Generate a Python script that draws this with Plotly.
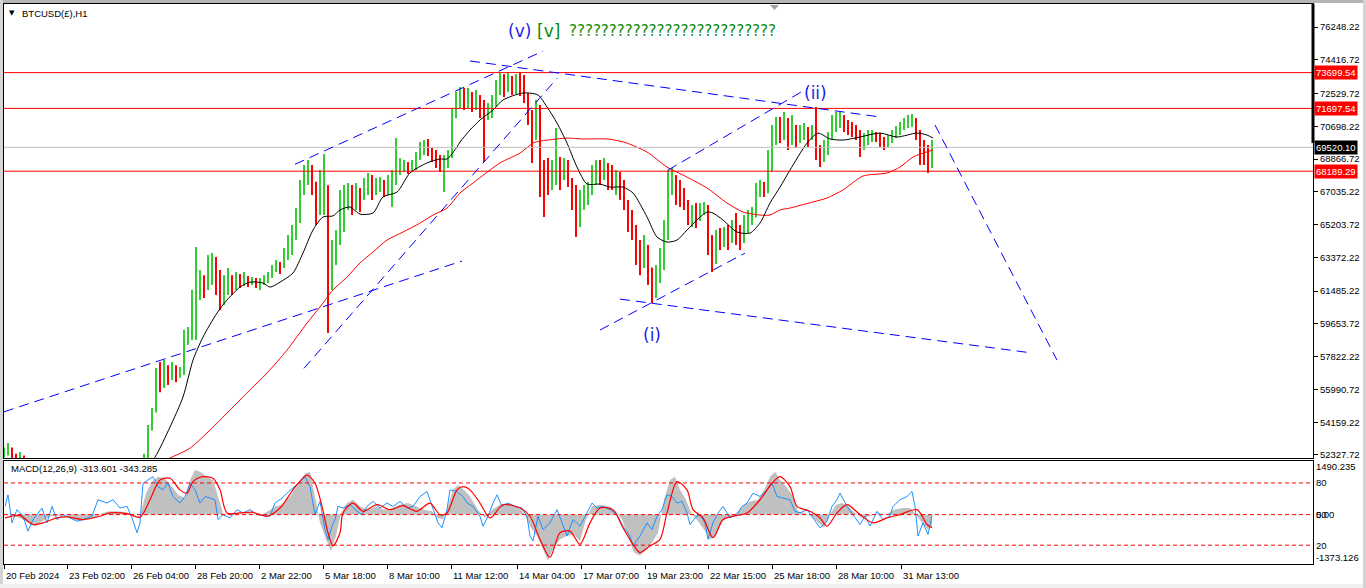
import plotly.graph_objects as go

# ---------------- data ----------------
first_open = 52450
bar_step = 4  # hourly bars per drawn candle

c_close = [
    52600, 52700, 52300, 52150, 52250, 52050, 51800, 51500, 51300, 51100,
    51350, 51600, 51400, 51150, 50950, 51200, 51450, 51650, 51400, 51250,
    51050, 50900, 51150, 51400, 51600, 51750, 51500, 51350, 51600, 51800,
    51650, 51500, 51750, 51850, 51950,
    52200, 53720, 54730, 56800, 56240, 56970, 56640, 57190, 56800, 56970,
    58750, 59030, 60710, 61550, 61830, 61550, 62660, 62940, 62100, 61270,
    61830, 62100, 61710, 62220, 61990, 62100, 61940, 62050, 61880, 61940,
    62160, 62270, 62660, 62940, 62780, 63340, 63780, 64620, 65460, 66860,
    67700, 68250, 67420, 66020, 66860, 67140, 63220, 63780, 64340, 66300,
    66580, 67020, 66300, 66860, 66580, 67140, 67530, 67140, 67250, 67420,
    67140, 67530, 67810, 68250, 68370, 68530, 68370, 68480, 68930, 69370,
    69650, 69370, 69090, 68810, 68530, 68810, 69090, 71330, 72170, 72450,
    72170, 72280, 71890, 72170, 71610, 71160, 71610, 71890, 72730, 73290,
    73010, 73290, 72840, 73170, 73010, 72450, 71610, 70210, 71610, 68250,
    68250, 67700, 67970, 68530, 67970, 68530, 67700, 66860, 66300, 66580,
    66860, 67140, 67970, 68250, 68090, 68370, 67970, 67700, 67810, 67420,
    66580, 65740, 64900, 64060, 63220, 63500, 62660, 61270, 62380, 62780,
    64620, 67420, 67700, 67140, 66860, 66580, 65740, 66020, 65460, 66020,
    66130, 64340, 63110, 64340, 64230, 64620, 64340, 64900, 64620, 64340,
    64790, 65460, 65740, 66860, 67140, 67020, 68250, 69930, 70600, 70490,
    70770, 70210, 70490, 70040, 70320, 70490, 70040, 70490, 69370, 68810,
    69370, 69930, 70770, 71050, 71160, 70770, 70600, 70490, 70210, 69370,
    69930, 70040, 70210, 70040, 69820, 69650, 69930, 70210, 70380, 70600,
    70770, 70940, 71160, 70210, 69370, 69090, 68700, 69520,
]
c_high = [
    52750, 53000, 52750, 52400, 52500, 52300, 52080, 51900, 51600, 51400,
    51500, 51750, 51700, 51500, 51250, 51350, 51600, 51800, 51750, 51500,
    51350, 51150, 51300, 51550, 51750, 51950, 51850, 51600, 51750, 51950,
    51900, 51750, 51900, 52000, 52100,
    52400, 54000, 54950, 57190, 57520, 57630, 57350, 57520, 57350, 57240,
    59310, 59480, 61550, 63950, 62660, 62380, 63500, 63620, 63390, 62660,
    62380, 62780, 62380, 62550, 62440, 62550, 62330, 62270, 62220, 62220,
    62380, 62550, 62940, 63220, 63110, 63890, 64620, 65180, 66130, 67700,
    68530, 68810, 68530, 67600, 68250, 69150, 67400, 64340, 64900, 67140,
    67420, 67530, 67420, 67530, 67250, 67810, 68090, 67970, 67810, 67860,
    67700, 67970, 68250, 70040, 68930, 68810, 68700, 68810, 69260, 69820,
    69930, 69990, 69480, 69370, 69090, 69090, 69370, 71720, 72610, 72890,
    72840, 72840, 72610, 72730, 72450, 72170, 72000, 72450, 73290, 73680,
    73620, 73730, 73510, 73620, 73730, 73570, 72560, 71610, 72170, 71890,
    68810, 68930, 68810, 70600, 68980, 68930, 68810, 67810, 67420, 67140,
    67420, 67580, 68530, 68810, 68810, 68930, 68650, 68530, 68250, 68140,
    67700, 66580, 66020, 65180, 64340, 64620, 64060, 62800, 62940, 63890,
    65460, 68250, 68370, 67970, 67700, 67250, 66580, 66300, 66410, 66410,
    66470, 66300, 64620, 64900, 65010, 65070, 65180, 65460, 65850, 65180,
    65740, 66020, 66190, 67530, 67700, 67580, 69370, 70770, 71220, 71220,
    71500, 71160, 71330, 70770, 70770, 70880, 70660, 70770, 71780, 69650,
    69930, 70380, 71330, 71500, 71500, 71330, 71050, 70940, 70770, 70490,
    70320, 70490, 70490, 70380, 70320, 70100, 70210, 70490, 70710, 70940,
    71160, 71330, 71380, 71160, 70490, 69930, 69650, 69930,
]
c_low = [
    52200, 52300, 52000, 51900, 51950, 51800, 51600, 51300, 51100, 50900,
    51000, 51250, 51200, 51000, 50800, 50850, 51100, 51350, 51250, 51100,
    50900, 50700, 50800, 51050, 51300, 51500, 51350, 51200, 51250, 51500,
    51450, 51350, 51400, 51650, 51750,
    51900, 52150, 53700, 54700, 55840, 56070, 56240, 56520, 56400, 56640,
    56800, 58470, 58750, 58750, 60990, 61100, 61550, 61830, 61270, 60430,
    60710, 61270, 61270, 61550, 61660, 61770, 61710, 61830, 61660, 61550,
    61830, 61940, 62220, 62550, 62440, 62780, 63220, 63500, 64340, 65300,
    66860, 67420, 66860, 65180, 65740, 65740, 59140, 61550, 62940, 64060,
    64790, 66020, 65740, 66020, 65910, 66580, 66860, 66580, 66860, 67020,
    66750, 66860, 66190, 67420, 67970, 68140, 68030, 68140, 68250, 68810,
    69090, 69040, 68700, 68370, 68140, 67020, 68370, 68930, 71160, 71720,
    71610, 71720, 71500, 71610, 71160, 68700, 71050, 71160, 71800, 72450,
    72340, 72610, 72450, 72500, 72390, 72000, 70770, 68650, 69930, 66750,
    65630, 66860, 67140, 67420, 67140, 67700, 67300, 66020, 64510, 65070,
    66020, 66300, 66860, 67420, 67420, 67700, 67140, 67140, 66860, 66580,
    66020, 64790, 64340, 62940, 62380, 62780, 61830, 60820, 61100, 61940,
    62660, 64340, 66860, 66300, 66190, 66020, 65180, 65070, 65010, 65400,
    65740, 63500, 62550, 63000, 63780, 63950, 63780, 64170, 64060, 63780,
    64170, 64700, 65180, 65600, 66750, 66750, 66950, 68140, 69650, 69760,
    69930, 69370, 69650, 69480, 69760, 69930, 69540, 69930, 68810, 68420,
    68700, 69090, 69930, 70380, 70600, 70380, 70210, 70100, 69930, 68980,
    69370, 69650, 69820, 69820, 69540, 69370, 69540, 69760, 70040, 70210,
    70490, 70600, 70660, 69930, 68530, 68530, 68090, 68370,
]

ma_fast_bars = [140, 151, 166, 179, 189, 199, 213, 223, 236, 246, 259, 266, 276, 289, 299, 309, 319, 329, 336, 346,
                356, 369, 379, 393, 406, 423, 436, 443, 453, 456, 466, 476, 489, 499, 519, 534, 543, 553, 563, 573,
                583, 596, 606, 619, 629, 643, 653, 663, 673, 683, 693, 703, 709, 719, 733, 746, 756, 766, 776, 786,
                803, 814, 826, 839, 856, 876, 893, 913, 923, 929]
ma_fast_vals = [51500, 52210, 53890, 55570, 57630, 58920, 60260, 60990, 61710, 61990, 61940, 61710, 61990, 62500, 63620, 64900, 65630, 65690, 66020, 66190,
                65790, 65850, 66750, 67020, 68090, 68650, 68870, 68870, 69540, 69820, 70490, 71050, 71610, 72170, 72560, 72450, 71780, 70880, 69760, 68420,
                67470, 67470, 67300, 67300, 66970, 65630, 64510, 64230, 64340, 64900, 65460, 65910, 65850, 65460, 64790, 64730, 65290, 66410, 67300, 68250,
                69760, 70320, 69990, 69930, 70100, 70320, 70100, 70320, 70210, 70040]

ma_slow_bars = [140, 168, 186, 203, 223, 243, 263, 283, 303, 316, 329, 343, 356, 369, 383, 399, 416, 429, 443, 456,
                469, 496, 516, 529, 536, 553, 563, 579, 603, 616, 623, 643, 663, 683, 703, 723, 739, 756, 766, 776,
                786, 809, 823, 839, 859, 883, 896, 909, 919, 929]
ma_slow_vals = [51450, 52210, 52710, 53560, 54670, 55800, 56910, 58190, 59700, 60600, 61550, 62270, 63060, 63670, 64340, 64790, 65290, 65740, 66130, 66970,
                67530, 68650, 69200, 69760, 69870, 69990, 70040, 69990, 69990, 69870, 69760, 69260, 68420, 67860, 67250, 66410, 65910, 65740, 65740, 66020,
                66130, 66470, 66690, 67140, 67920, 68090, 68420, 68980, 69200, 69370]

hist_bars = [1, 8, 16, 24, 31, 38, 46, 53, 61, 68, 76, 84, 91, 98, 106, 114, 122, 130, 136, 142,
             148, 154, 161, 168, 174, 181, 186, 191, 196, 203, 209, 214, 219, 226, 236, 246, 256, 264, 271, 278,
             286, 294, 301, 306, 311, 316, 322, 327, 332, 337, 343, 349, 356, 364, 372, 380, 388, 396, 404, 412,
             420, 428, 434, 439, 444, 449, 454, 460, 466, 474, 481, 488, 496, 504, 512, 519, 526, 533, 539, 544,
             549, 556, 563, 570, 576, 582, 588, 596, 604, 612, 618, 624, 630, 636, 642, 648, 654, 660, 666, 671,
             676, 682, 688, 694, 700, 706, 712, 718, 724, 731, 738, 746, 754, 761, 766, 771, 776, 782, 788, 794,
             801, 808, 814, 820, 826, 832, 838, 844, 851, 858, 866, 874, 882, 890, 898, 906, 912, 918, 924, 928]
hist_vals = [0, -28, -92, -229, -321, -183, -46, -46, 0, -92, -183, -138, -92, 46, 92, 92, 64, 0, -28, 596,
             917, 1055, 1009, 779, 550, 459, 963, 1238, 1192, 1055, 963, 504, 46, -28, 0, 46, -28, 92, 229, 275,
             504, 825, 1146, 1192, 504, -229, -688, -1009, -596, 46, 321, 413, 229, 138, 229, 138, 183, 275, 321, 229,
             138, 92, -92, -138, 229, 688, 825, 688, 504, 138, -92, 138, 275, 321, 229, 92, -321, -596, -963, -1284,
             -963, -688, -596, -550, -734, -138, 229, 275, 229, 92, -138, -596, -1055, -1146, -963, -779, -504, 413, 963, 1055,
             688, 413, 0, -183, -413, -688, -596, -183, -92, 0, 229, 367, 413, 734, 1055, 1192, 963, 779, 550, 92,
             46, -46, -229, -367, 0, 275, 321, 229, 46, -92, -46, 46, 0, 138, 183, 183, 0, -229, -413, -321]

sig_bars = [1, 16, 29, 39, 53, 63, 79, 96, 106, 123, 136, 146, 156, 166, 176, 183, 189, 199, 209, 216,
            223, 236, 249, 263, 276, 289, 303, 311, 318, 324, 329, 336, 339, 349, 359, 373, 386, 399, 413, 426,
            436, 443, 453, 459, 466, 476, 486, 499, 516, 526, 536, 546, 556, 566, 576, 586, 596, 609, 619, 629,
            636, 646, 656, 663, 673, 683, 689, 699, 709, 719, 729, 743, 756, 768, 776, 786, 793, 806, 816, 823,
            833, 843, 856, 869, 883, 896, 913, 923, 928]
sig_vals = [-92, -28, -275, -229, -92, -64, -138, -46, 46, 28, -73, 413, 963, 1009, 688, 596, 917, 1055, 1009, 688,
            46, 46, 64, -46, 183, 688, 1100, 871, 229, -504, -871, -504, 46, 321, 92, 275, 138, 248, 92, 321,
            0, 46, 688, 779, 688, 321, -92, 275, 183, -46, -688, -1192, -504, -459, -825, -229, 183, 138, -367, -825,
            -1055, -871, -688, 46, 917, 688, 138, -92, -642, -138, -46, 46, 413, 871, 1055, 779, 229, 92, -92, -321,
            46, 275, 0, -229, -92, 0, 138, -275, -367]

fast_bars = [1, 4, 8, 13, 19, 24, 29, 38, 43, 48, 53, 59, 66, 73, 79, 88, 94, 103, 109, 116,
             123, 128, 133, 136, 139, 144, 149, 154, 159, 164, 169, 176, 181, 186, 191, 196, 201, 206, 211, 214,
             219, 226, 233, 239, 246, 253, 259, 266, 271, 278, 283, 289, 296, 301, 306, 311, 316, 321, 324, 328,
             331, 334, 339, 346, 353, 358, 363, 369, 376, 383, 389, 396, 403, 409, 416, 423, 429, 434, 438, 443,
             446, 453, 459, 463, 469, 476, 479, 484, 489, 493, 498, 504, 511, 518, 523, 526, 529, 534, 539, 546,
             553, 558, 563, 569, 576, 583, 588, 593, 599, 606, 613, 619, 626, 629, 636, 643, 648, 653, 658, 663,
             668, 673, 678, 683, 686, 691, 696, 701, 704, 709, 714, 719, 726, 733, 738, 743, 749, 756, 763, 768,
             773, 779, 786, 791, 796, 803, 809, 816, 823, 828, 833, 836, 843, 849, 856, 861, 866, 873, 879, 886,
             889, 896, 903, 908, 911, 914, 919, 924, 928]
fast_vals = [229, 550, -229, 138, -46, -459, -138, 183, -229, 229, -138, 0, -92, -183, -138, -46, 413, 321, 413, 183,
             229, -92, -504, -229, 871, 963, 1055, 779, 688, 871, 504, 321, 504, 871, 688, 321, 504, 459, 413, -138,
             0, -92, 138, 46, 138, 0, -28, -46, 321, 459, 596, 734, 917, 1055, 779, 0, 367, -413, -688, -321,
             -138, 229, 183, 275, 92, 0, 229, 367, 183, 321, 229, 367, 183, 229, 504, 642, 183, -229, -367, 138,
             688, 642, 504, 321, 229, -46, -321, -46, 321, 550, 229, 321, 229, 183, -46, -596, -734, -46, -413, -229,
             138, -229, -596, -138, -321, 46, 321, 183, 229, 138, 0, -321, -596, -871, -596, -229, -413, -46, 138, 550,
             504, 321, 367, 46, -275, -92, 0, -229, -688, -229, 46, 229, -92, 0, 229, 321, 596, 504, 688, 871,
             504, 459, 413, 92, 46, 138, -92, -367, -183, 229, 413, 596, 229, 0, -275, -46, -321, 92, -138, -46,
             229, 413, 504, 642, 229, -596, -229, -550, -46]

# horizontal levels and current price
red_levels = [73699.54, 71697.54, 68189.29]
last_price = 69520.10
macd_levels = [880, 0, -850]

# trendlines: (bar0, price0, bar1, price1)
trendlines = [
    (0, 54740, 458, 63170),
    (291, 68574, 539, 74900),
    (300, 57170, 553, 73380),
    (466, 74350, 876, 71220),
    (596, 59310, 741, 63610),
    (664, 68250, 804, 72840),
    (616, 61040, 1028, 58030),
    (931, 70770, 1053, 57630),
]

price_ticks = [76248.22, 74416.72, 72529.72, 70698.22, 68866.72, 67035.22, 65203.72,
               63372.22, 61485.22, 59653.72, 57822.22, 55990.72, 54159.22, 52327.72]
time_tick_bars = [0, 63, 127, 191, 255, 319, 383, 447, 513, 577, 641, 704, 768, 832, 897]
time_tick_labels = ["20 Feb 2024", "23 Feb 02:00", "26 Feb 04:00", "28 Feb 20:00", "2 Mar 22:00",
                    "5 Mar 18:00", "8 Mar 10:00", "11 Mar 12:00", "14 Mar 04:00", "17 Mar 07:00",
                    "19 Mar 23:00", "22 Mar 15:00", "25 Mar 18:00", "28 Mar 10:00", "31 Mar 13:00"]

wave_labels = [  # (text, bar, price, color, size)
    ("(v)", 515, 76030, "#1E1EE6", 17),
    ("[v]", 544, 76030, "#0A8A0A", 17),
    ("??????????????????????????", 668, 76030, "#0A8A0A", 15),
    ("(ii)", 811, 72560, "#1E1EE6", 17),
    ("(i)", 648, 59030, "#1E1EE6", 17),
]

# ---------------- layout helpers ----------------
W, H = 1366, 588
PL, PR, PT, PB = 4, 1313, 4, 564
def xp(px):
    return (px - PL) / (PR - PL)
def yp(py):
    return (PB - py) / (PB - PT)

main_dom = [yp(458), 1.0]
macd_dom = [0.0, yp(461)]
y_main_range = [52159.6, 77533.7]
y_macd_range = [-1373.126, 1490.235]
x_range = [0, PR - PL]

bars = list(range(0, bar_step * len(c_close), bar_step))
c_open = [first_open] + c_close[:-1]

FONT = "Liberation Sans"
up_col, dn_col = "#32CD32", "#FF0000"

fig = go.Figure()
fig.add_trace(go.Ohlc(
    x=bars, open=c_open, high=c_high, low=c_low, close=c_close,
    increasing=dict(line=dict(color=up_col, width=2)),
    decreasing=dict(line=dict(color=dn_col, width=2)),
    tickwidth=0, xaxis="x", yaxis="y", hoverinfo="skip"))
fig.add_trace(go.Scatter(x=ma_slow_bars, y=ma_slow_vals, mode="lines",
                         line=dict(color="#FF0000", width=1, shape="spline", smoothing=0.7),
                         xaxis="x", yaxis="y", hoverinfo="skip"))
fig.add_trace(go.Scatter(x=ma_fast_bars, y=ma_fast_vals, mode="lines",
                         line=dict(color="#000000", width=1, shape="spline", smoothing=0.7),
                         xaxis="x", yaxis="y", hoverinfo="skip"))

# MACD panel
fig.add_trace(go.Scatter(x=hist_bars, y=hist_vals, mode="lines", fill="tozeroy",
                         fillcolor="#C0C0C0", line=dict(color="#C0C0C0", width=0),
                         xaxis="x2", yaxis="y2", hoverinfo="skip"))
fig.add_trace(go.Scatter(x=fast_bars, y=fast_vals, mode="lines",
                         line=dict(color="#1E90FF", width=1),
                         xaxis="x2", yaxis="y2", hoverinfo="skip"))
fig.add_trace(go.Scatter(x=sig_bars, y=sig_vals, mode="lines",
                         line=dict(color="#FF0000", width=1.2, shape="spline", smoothing=0.8),
                         xaxis="x2", yaxis="y2", hoverinfo="skip"))

shapes = []
for lv in red_levels:
    shapes.append(dict(type="line", xref="paper", yref="y", x0=0, x1=1, y0=lv, y1=lv,
                       line=dict(color="#FF0000", width=1)))
shapes.append(dict(type="line", xref="paper", yref="y", x0=0, x1=1, y0=last_price, y1=last_price,
                   line=dict(color="#C0C0C0", width=1)))
for lv in macd_levels:
    shapes.append(dict(type="line", xref="paper", yref="y2", x0=0, x1=1, y0=lv, y1=lv,
                       line=dict(color="#FF0000", width=1, dash="4px,3px")))
for b0, p0, b1, p1 in trendlines:
    shapes.append(dict(type="line", xref="x", yref="y", x0=b0, y0=p0, x1=b1, y1=p1,
                       line=dict(color="#0000FF", width=1, dash="10px,6px")))
# thick price marker bar on right edge of main panel
shapes.append(dict(type="line", xref="paper", yref="y", x0=1, x1=1, y0=69760, y1=y_main_range[1],
                   line=dict(color="#000000", width=3)))
# chart-shift triangle at top
shapes.append(dict(type="path", xref="paper", yref="paper",
                   path=f"M {xp(770)} {yp(5)} L {xp(779)} {yp(5)} L {xp(774.5)} {yp(10)} Z",
                   fillcolor="#A0A0A0", line=dict(width=0)))
# window frame
frame_col = "#D4D4D4"
shapes += [
    dict(type="rect", xref="paper", yref="paper", x0=xp(0), x1=xp(W), y0=yp(3), y1=yp(0),
         fillcolor="#B4B4B4", line=dict(width=0)),
    dict(type="rect", xref="paper", yref="paper", x0=xp(0), x1=xp(3), y0=yp(H), y1=yp(0),
         fillcolor=frame_col, line=dict(width=0)),
    dict(type="rect", xref="paper", yref="paper", x0=xp(0), x1=xp(W), y0=yp(H), y1=yp(584),
         fillcolor="#F0F0F0", line=dict(width=0)),
    dict(type="rect", xref="paper", yref="paper", x0=xp(1363), x1=xp(W), y0=yp(H), y1=yp(0),
         fillcolor=frame_col, line=dict(width=0)),
]

ann = []
lab_font = dict(family=FONT, size=9.5, color="#000000")
# title
ann.append(dict(text="BTCUSD(£),H1", xref="paper", yref="paper", x=xp(20), y=yp(13),
                xanchor="left", yanchor="middle", showarrow=False, font=lab_font))
ann.append(dict(text="▼", xref="paper", yref="paper", x=xp(12), y=yp(13),
                xanchor="center", yanchor="middle", showarrow=False,
                font=dict(family="DejaVu Sans", size=7, color="#000000")))
ann.append(dict(text="MACD(12,26,9) -313.601 -343.285", xref="paper", yref="paper",
                x=xp(9), y=yp(469), xanchor="left", yanchor="middle", showarrow=False, font=lab_font))
# time labels
for b, t in zip(time_tick_bars, time_tick_labels):
    ann.append(dict(text=t, xref="x2", yref="paper", x=b, y=yp(575), xanchor="left",
                    yanchor="middle", xshift=0, showarrow=False, font=lab_font))
# highlighted price labels on the right scale
for lv in red_levels:
    ann.append(dict(text=f"{lv:.2f}", xref="paper", yref="y", x=1, y=lv, xanchor="left",
                    yanchor="middle", xshift=1, showarrow=False, bgcolor="#FF0000", borderpad=1,
                    font=dict(family=FONT, size=9.5, color="#FFFFFF")))
ann.append(dict(text=f"{last_price:.2f}", xref="paper", yref="y", x=1, y=last_price, xanchor="left",
                yanchor="middle", xshift=1, showarrow=False, bgcolor="#000000", borderpad=1,
                font=dict(family=FONT, size=9.5, color="#FFFFFF")))
ann.append(dict(text="50", xref="paper", yref="y2", x=1, y=0, xanchor="left", yanchor="middle",
                xshift=1, showarrow=False, font=lab_font))
# wave labels
for txt, b, p, col, sz in wave_labels:
    ann.append(dict(text=txt, xref="x", yref="y", x=b, y=p, xanchor="center", yanchor="middle",
                    showarrow=False, font=dict(family="DejaVu Sans", size=sz, color=col)))

axis_common = dict(showgrid=False, zeroline=False, showline=True, mirror=True,
                   linecolor="#000000", linewidth=1)

fig.update_layout(
    width=W, height=H,
    margin=dict(l=PL, r=W - PR, t=PT, b=H - PB, pad=0),
    paper_bgcolor="#FFFFFF", plot_bgcolor="#FFFFFF",
    showlegend=False, hovermode=False,
    xaxis=dict(domain=[0, 1], anchor="y", range=x_range, showticklabels=False, ticks="",
               rangeslider=dict(visible=False), **axis_common),
    xaxis2=dict(domain=[0, 1], anchor="y2", range=x_range, showticklabels=False, ticks="outside",
                ticklen=4, tickcolor="#000000", tickvals=time_tick_bars, matches="x", **axis_common),
    yaxis=dict(domain=main_dom, anchor="x", side="right", range=y_main_range,
               tickvals=price_ticks, ticktext=[f"{v:.2f}" for v in price_ticks],
               ticks="outside", ticklen=4, tickcolor="#000000", tickfont=lab_font, **axis_common),
    yaxis2=dict(domain=macd_dom, anchor="x2", side="right", range=y_macd_range,
                tickvals=[1323, 880, 0, -850, -1207],
                ticktext=["1490.235", "80", "0.00", "20", "-1373.126"],
                ticks="", tickfont=lab_font, **axis_common),
    shapes=shapes, annotations=ann,
)

fig.write_html("out.html", config={"displayModeBar": False},
               post_script="document.body.style.margin='0';document.body.style.overflow='hidden';")
